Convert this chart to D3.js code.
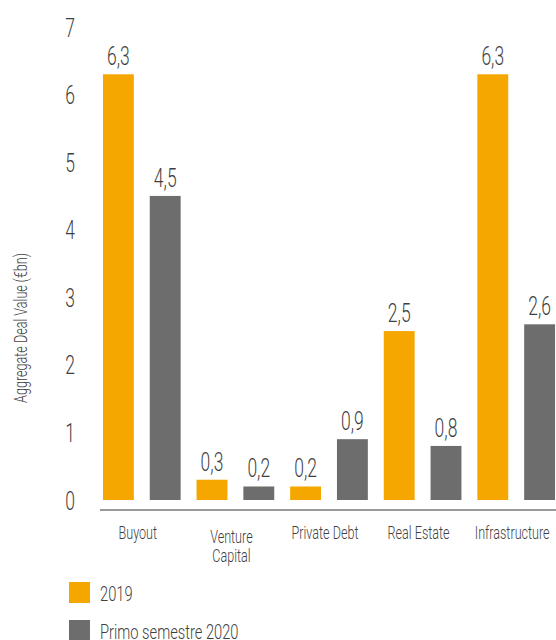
<!DOCTYPE html>
<html>
<head>
<meta charset="utf-8">
<script src="https://cdn.jsdelivr.net/npm/d3@7"></script>
<style>
  body { margin: 0; background: #fff; }
  svg text { font-family: Roboto, "Open Sans", sans-serif; font-weight: 300; fill: #3f3f3f; }
</style>
</head>
<body>
<div id="chart"></div>
<script>
// ---------------------------------------------------------------------------
// Data
// ---------------------------------------------------------------------------
const categories = ["Buyout", "Venture Capital", "Private Debt", "Real Estate", "Infrastructure"];
const seriesNames = ["2019", "Primo semestre 2020"];
const values2019 = [6.3, 0.3, 0.2, 2.5, 6.3];
const values2020 = [4.5, 0.2, 0.9, 0.8, 2.6];
const yTicks = [0, 1, 2, 3, 4, 5, 6, 7];
const colors = ["#f5a700", "#6d6d6d"];

const width = 556, height = 640;
const squeeze = 0.7; // the reference uses a condensed face

const svg = d3.select("#chart")
  .append("svg")
  .attr("width", width)
  .attr("height", height);

// put a text at (x,y) and squeeze it horizontally
function narrowText(parent, x, y, str, size, anchor, rot) {
  return parent.append("text")
    .attr("transform", "translate(" + x + "," + y + ")" + (rot ? " rotate(" + rot + ")" : "") + " scale(" + squeeze + ",1)")
    .style("text-anchor", anchor || "middle")
    .style("font-size", size + "px")
    .text(str);
}

// scales
const x0 = d3.scaleBand()
  .domain(categories)
  .range([95, 563])
  .padding(0);

const x1 = d3.scaleBand()
  .domain(seriesNames)
  .range([0, x0.bandwidth()])
  .paddingInner(0.34)
  .paddingOuter(0.17);

const y = d3.scaleLinear()
  .domain([0, 7])
  .range([500, 27]);

// y tick labels (no axis line)
const yAxis = d3.axisLeft(y)
  .tickValues(yTicks)
  .tickSize(0)
  .tickFormat(d3.format("d"));

const yG = svg.append("g")
  .attr("transform", "translate(70,0)")
  .call(yAxis);
yG.select(".domain").remove();
yG.selectAll(".tick text").remove();
yG.selectAll(".tick").each(function(d) {
  narrowText(d3.select(this), 0, 9, String(d), 25, "middle");
});

// y title
narrowText(svg, 27, 328, "Aggregate Deal Value (€bn)", 18, "middle", -90);

// bars
const rows = categories.map((c, i) => ({ cat: c, vals: [values2019[i], values2020[i]] }));

const groups = svg.selectAll("g.group")
  .data(rows)
  .enter()
  .append("g")
  .attr("class", "group")
  .attr("transform", d => "translate(" + x0(d.cat) + ",0)");

groups.selectAll("rect")
  .data(d => d.vals.map((v, j) => ({ s: seriesNames[j], v: v, j: j })))
  .enter()
  .append("rect")
  .attr("x", d => x1(d.s))
  .attr("width", x1.bandwidth())
  .attr("y", d => y(d.v))
  .attr("height", d => y(0) - y(d.v))
  .attr("fill", d => colors[d.j]);

groups.each(function(row) {
  const g = d3.select(this);
  row.vals.forEach((v, j) => {
    narrowText(g, x1(seriesNames[j]) + x1.bandwidth() / 2, y(v) - 9,
      d3.format(".1f")(v).replace(".", ","), 25, "middle");
  });
});

// x axis
const xAxis = d3.axisBottom(x0).tickSize(0).tickPadding(0);
const xG = svg.append("g")
  .attr("transform", "translate(0,510)")
  .call(xAxis);
xG.select(".domain")
  .attr("d", "M100,0H556")
  .attr("stroke", "#777")
  .attr("stroke-width", 1.5);
xG.selectAll(".tick text").remove();
xG.selectAll(".tick").each(function(d) {
  const words = d === "Venture Capital" ? ["Venture", "Capital"] : [d];
  const g = d3.select(this);
  words.forEach((w, k) => {
    narrowText(g, -4, (words.length > 1 ? 33 : 29) + k * 19, w, 18, "middle");
  });
});

// legend
const legend = svg.selectAll("g.legend")
  .data(seriesNames)
  .enter()
  .append("g")
  .attr("class", "legend")
  .attr("transform", (d, i) => "translate(69," + (582 + i * 38) + ")");

legend.append("rect")
  .attr("width", 21)
  .attr("height", 21)
  .attr("fill", (d, i) => colors[i]);

legend.each(function(d) {
  narrowText(d3.select(this), 31, 19, d, 21, "start");
});
</script>
</body>
</html>
